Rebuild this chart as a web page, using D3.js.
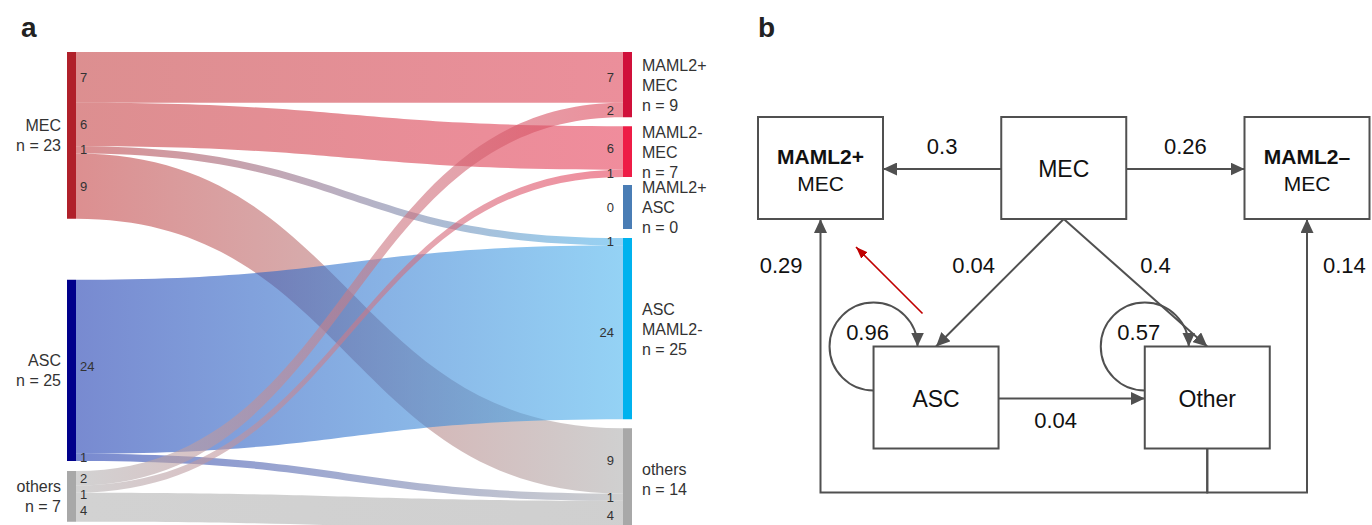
<!DOCTYPE html>
<meta charset="utf-8">
<script src="https://d3js.org/d3.v7.min.js"></script>
<style>
  body { margin: 0; background: #fff; }
  text { font-family: "Liberation Sans", Arial, sans-serif; }
</style>
<svg id="fig" width="1372" height="525"></svg>
<script>

// ---- panel a : flows between classifications ----
var leftNodes  = ["MEC", "ASC", "others"];
var rightNodes = ["MAML2+ MEC", "MAML2- MEC", "MAML2+ ASC", "ASC MAML2-", "others"];
var flowFrom   = ["MEC", "MEC", "MEC", "MEC", "ASC", "ASC", "others", "others", "others"];
var flowTo     = ["MAML2+ MEC", "MAML2- MEC", "ASC MAML2-", "others", "ASC MAML2-", "others", "MAML2+ MEC", "MAML2- MEC", "others"];
var flowValue  = [7, 6, 1, 9, 24, 1, 2, 1, 4];

// ---- panel b : transition probabilities ----
var states     = ["MAML2+ MEC", "MEC", "MAML2– MEC", "ASC", "Other"];
var stateText  = [["MAML2+", "MEC"], ["MEC"], ["MAML2–", "MEC"], ["ASC"], ["Other"]];
var transFrom  = ["MEC", "MEC", "MEC", "MEC", "ASC", "Other", "ASC", "Other", "Other"];
var transTo    = ["MAML2+ MEC", "MAML2– MEC", "ASC", "Other", "ASC", "Other", "Other", "MAML2+ MEC", "MAML2– MEC"];
var transProb  = [0.3, 0.26, 0.04, 0.4, 0.96, 0.57, 0.04, 0.29, 0.14];

var svg = d3.select("#fig");
var defs = svg.append("defs");

// panel letters
svg.append("text").attr("x", 21).attr("y", 37).text("a")
  .attr("font-size", 28).attr("font-weight", "bold").attr("fill", "#222");
svg.append("text").attr("x", 758).attr("y", 37).text("b")
  .attr("font-size", 28).attr("font-weight", "bold").attr("fill", "#222");

// ===================== panel a =====================
var barColor = {
  "L:MEC": "#b0202a", "L:ASC": "#00008b", "L:others": "#a8a8a8",
  "R:MAML2+ MEC": "#d0103a", "R:MAML2- MEC": "#ee1c46", "R:MAML2+ ASC": "#4a7db5",
  "R:ASC MAML2-": "#00b2ee", "R:others": "#a8a8a8"
};
var ribbonColor = {
  "L:MEC": "#c54446", "L:ASC": "#1e3cb1", "L:others": "#b4b4b4",
  "R:MAML2+ MEC": "#de4458", "R:MAML2- MEC": "#e6405a", "R:MAML2+ ASC": "#4a7db5",
  "R:ASC MAML2-": "#4db4ee", "R:others": "#b0b0b0"
};

var unit = d3.scaleLinear().domain([0, 1]).range([0, 7.25]);
var colX = d3.scaleOrdinal().domain(["L", "R"]).range([67, 623]);
var nodeW = 9, topY = 52, emptyH = 44;
var gaps = { L: [61, 10], R: [9, 8, 9, 9] };

var flows = flowValue.map(function(v, i) {
  return { from: flowFrom[i], to: flowTo[i], value: v, i: i };
});

function column(names, side, key) {
  var y = topY;
  return names.map(function(name, i) {
    var total = d3.sum(flows.filter(function(f) { return f[key] === name; }), function(f) { return f.value; });
    var h = total > 0 ? unit(total) : emptyH;
    var n = { name: name, side: side, total: total, x: colX(side), y0: y, y1: y + h };
    y += h + (gaps[side][i] || 0);
    return n;
  });
}
var lNodes = column(leftNodes, "L", "from");
var rNodes = column(rightNodes, "R", "to");

var x0 = colX("L") + nodeW, x1 = colX("R");
var vlab = [];

// stack ribbons inside nodes, and place the value labels (kept apart)
function stackLabels(list) {
  for (var j = 1; j < list.length; j++) {
    if (list[j].y - list[j - 1].y < 16) list[j].y = list[j - 1].y + 16;
  }
  list.forEach(function(d) { vlab.push(d); });
}
lNodes.forEach(function(n) {
  var y = n.y0, labs = [];
  flows.filter(function(f) { return f.from === n.name; })
    .sort(function(a, b) { return rightNodes.indexOf(a.to) - rightNodes.indexOf(b.to); })
    .forEach(function(f) {
      f.s0 = y; y += unit(f.value); f.s1 = y;
      labs.push({ x: x0 + 4, y: (f.s0 + f.s1) / 2, t: f.value, a: "start" });
    });
  stackLabels(labs);
});
rNodes.forEach(function(n) {
  var y = n.y0, labs = [];
  flows.filter(function(f) { return f.to === n.name; })
    .sort(function(a, b) { return leftNodes.indexOf(a.from) - leftNodes.indexOf(b.from); })
    .forEach(function(f) {
      f.t0 = y; y += unit(f.value); f.t1 = y;
      labs.push({ x: x1 - 9, y: (f.t0 + f.t1) / 2, t: f.value, a: "end" });
    });
  if (n.total === 0) labs.push({ x: x1 - 9, y: (n.y0 + n.y1) / 2, t: 0, a: "end" });
  stackLabels(labs);
});

function ribbon(f) {
  var xm = (x0 + x1) / 2, p = d3.path();
  p.moveTo(x0, f.s0);
  p.bezierCurveTo(xm, f.s0, xm, f.t0, x1, f.t0);
  p.lineTo(x1, f.t1);
  p.bezierCurveTo(xm, f.t1, xm, f.s1, x0, f.s1);
  p.closePath();
  return p.toString();
}

flows.forEach(function(f) {
  var g = defs.append("linearGradient").attr("id", "rg" + f.i)
    .attr("gradientUnits", "userSpaceOnUse")
    .attr("x1", x0).attr("x2", x1).attr("y1", 0).attr("y2", 0);
  g.append("stop").attr("offset", "0%").attr("stop-color", ribbonColor["L:" + f.from]);
  g.append("stop").attr("offset", "100%").attr("stop-color", ribbonColor["R:" + f.to]);
});

var pa = svg.append("g");
pa.selectAll("path.rib").data(flows).enter().append("path")
  .attr("class", "rib")
  .attr("d", ribbon)
  .attr("fill", function(f) { return "url(#rg" + f.i + ")"; })
  .attr("fill-opacity", 0.6);

pa.selectAll("rect.node").data(lNodes.concat(rNodes)).enter().append("rect")
  .attr("class", "node")
  .attr("x", function(n) { return n.x; })
  .attr("y", function(n) { return n.y0; })
  .attr("width", nodeW)
  .attr("height", function(n) { return n.y1 - n.y0; })
  .attr("fill", function(n) { return barColor[n.side + ":" + n.name]; });

pa.selectAll("text.val").data(vlab).enter().append("text")
  .attr("class", "val")
  .attr("x", function(d) { return d.x; })
  .attr("y", function(d) { return d.y + 4.5; })
  .attr("text-anchor", function(d) { return d.a; })
  .attr("font-size", 13).attr("fill", "#333")
  .text(function(d) { return d.t; });

// node names
function nodeLabel(n) {
  var lines = n.side === "L" ? [n.name] : n.name.split(" ");
  lines.push("n = " + n.total);
  var t = pa.append("text")
    .attr("x", n.side === "L" ? n.x - 6 : n.x + nodeW + 10)
    .attr("text-anchor", n.side === "L" ? "end" : "start")
    .attr("font-size", 16).attr("fill", "#333");
  var cy = (n.y0 + n.y1) / 2 - (lines.length - 1) * 10 + 6;
  lines.forEach(function(s, j) {
    t.append("tspan").attr("x", t.attr("x")).attr("y", cy + j * 20).text(s);
  });
}
lNodes.forEach(nodeLabel);
rNodes.forEach(nodeLabel);

// ===================== panel b =====================
var stateCol = [0, 1, 2, 0.475, 1.59], stateRow = [0, 0, 0, 1, 1];
var bx = d3.scaleLinear().domain([0, 2]).range([820.5, 1307]);
var by = d3.scaleLinear().domain([0, 1]).range([168, 397.5]);
var boxW = 125, boxH = 102, loopR = 44;
var ink = "#505050";

var boxes = {};
states.forEach(function(s, i) {
  boxes[s] = { name: s, lines: stateText[i], row: stateRow[i], cx: bx(stateCol[i]), cy: by(stateRow[i]) };
});

function marker(id, color, len, wid) {
  defs.append("marker").attr("id", id)
    .attr("viewBox", "0 0 " + len + " " + wid)
    .attr("refX", len).attr("refY", wid / 2)
    .attr("markerWidth", len).attr("markerHeight", wid)
    .attr("markerUnits", "userSpaceOnUse").attr("orient", "auto")
    .append("path").attr("d", "M0,0L" + len + "," + wid / 2 + "L0," + wid + "Z").attr("fill", color);
}
marker("arr", ink, 14, 13);
marker("arrRed", "#c00000", 12, 9);

var pb = svg.append("g");
var busY = by(1) + boxH / 2 + 44;
var labY = by(0) + boxH / 2 + 54;

var edges = transProb.map(function(p, i) {
  var s = boxes[transFrom[i]], t = boxes[transTo[i]];
  var d = d3.path(), lab = {};
  if (s === t) {
    var cx = s.cx - boxW / 2, cy = s.cy - boxH / 2;
    d = "M" + cx + "," + (cy + loopR) + " A" + loopR + "," + loopR + " 0 1 1 " + (cx + loopR) + "," + cy;
    lab = { x: cx - 6, y: cy - 7, a: "middle" };
  } else if (s.row === t.row) {
    var dir = t.cx > s.cx ? 1 : -1;
    var xa = s.cx + dir * boxW / 2, xb = t.cx - dir * boxW / 2;
    d.moveTo(xa, s.cy + 1); d.lineTo(xb, s.cy + 1);
    lab = s.row === 0 ? { x: (xa + xb) / 2, y: s.cy - 14, a: "middle" }
                      : { x: (xa + xb) / 2 - 16, y: s.cy + 30, a: "middle" };
  } else if (s.row < t.row) {
    var ya = s.cy + boxH / 2, yb = t.cy - boxH / 2;
    d.moveTo(s.cx, ya); d.lineTo(t.cx, yb);
    var xl = s.cx + (t.cx - s.cx) * (labY - 8 - ya) / (yb - ya);
    lab = { x: xl + (t.cx < s.cx ? -44 : 40), y: labY, a: "middle" };
  } else {
    d.moveTo(s.cx, s.cy + boxH / 2); d.lineTo(s.cx, busY);
    d.lineTo(t.cx, busY); d.lineTo(t.cx, t.cy + boxH / 2);
    lab = t.cx < s.cx ? { x: t.cx - 18, y: labY, a: "end" } : { x: t.cx + 16, y: labY, a: "start" };
  }
  return { d: d.toString(), p: p, lab: lab };
});

pb.selectAll("path.edge").data(edges).enter().append("path")
  .attr("class", "edge")
  .attr("d", function(e) { return e.d; })
  .attr("fill", "none").attr("stroke", ink).attr("stroke-width", 2)
  .attr("marker-end", "url(#arr)");

pb.selectAll("text.prob").data(edges).enter().append("text")
  .attr("class", "prob")
  .attr("x", function(e) { return e.lab.x; })
  .attr("y", function(e) { return e.lab.y; })
  .attr("text-anchor", function(e) { return e.lab.a; })
  .attr("font-size", 22).attr("fill", "#111")
  .text(function(e) { return e.p; });

var bList = states.map(function(s) { return boxes[s]; });
pb.selectAll("rect.box").data(bList).enter().append("rect")
  .attr("class", "box")
  .attr("x", function(b) { return b.cx - boxW / 2; })
  .attr("y", function(b) { return b.cy - boxH / 2; })
  .attr("width", boxW).attr("height", boxH)
  .attr("fill", "#fff").attr("stroke", ink).attr("stroke-width", 2);

bList.forEach(function(b) {
  if (b.lines.length === 1) {
    pb.append("text").attr("x", b.cx).attr("y", b.cy + 9)
      .attr("text-anchor", "middle").attr("font-size", 23).attr("fill", "#111").text(b.lines[0]);
  } else {
    pb.append("text").attr("x", b.cx).attr("y", b.cy - 4)
      .attr("text-anchor", "middle").attr("font-size", 21).attr("font-weight", "bold")
      .attr("fill", "#111").text(b.lines[0]);
    pb.append("text").attr("x", b.cx).attr("y", b.cy + 23)
      .attr("text-anchor", "middle").attr("font-size", 21).attr("fill", "#111").text(b.lines[1]);
  }
});

// red annotation arrow
var asc = boxes["ASC"], mp = boxes["MAML2+ MEC"];
pb.append("line")
  .attr("x1", asc.cx - boxW / 2 + 49).attr("y1", asc.cy - boxH / 2 - 33)
  .attr("x2", mp.cx + boxW / 2 - 27).attr("y2", mp.cy + boxH / 2 + 28)
  .attr("stroke", "#c00000").attr("stroke-width", 1.6)
  .attr("marker-end", "url(#arrRed)");

</script>
